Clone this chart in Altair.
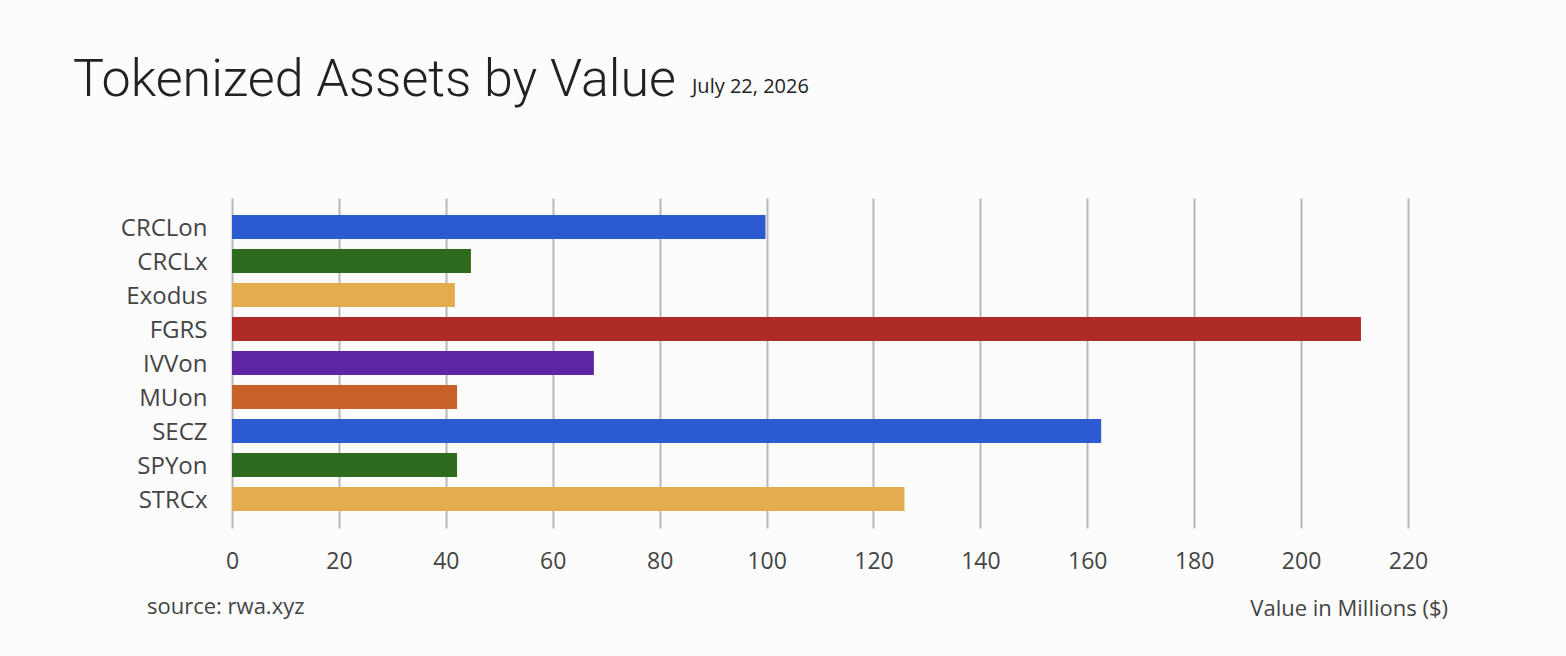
import altair as alt
import pandas as pd

assets = ["CRCLon", "CRCLx", "Exodus", "FGRS", "IVVon", "MUon", "SECZ", "SPYon", "STRCx"]
values = [99.8, 44.7, 41.7, 211.2, 67.7, 42.1, 162.6, 42.1, 125.8]
colors = ["#2C5AD0", "#2F6B1E", "#E2AC4F", "#AF2B27", "#5F24A3", "#C86127", "#2C5AD0", "#2F6B1E", "#E2AC4F"]
x_ticks = [0, 20, 40, 60, 80, 100, 120, 140, 160, 180, 200, 220]

title_text = "Tokenized Assets by Value"
date_text = "July 22, 2026"
source_text = "source: rwa.xyz"
axis_title = "Value in Millions ($)"

df = pd.DataFrame({"asset": assets, "value": values, "color": colors})

W, H = 1176, 330
LABEL_FONT = "Open Sans"

bars = alt.Chart(df).mark_bar().encode(
    y=alt.Y("asset:N", sort=assets,
            scale=alt.Scale(paddingInner=0.294, paddingOuter=0.5),
            axis=alt.Axis(title=None, domain=False, ticks=False, grid=False,
                          labelFontSize=24, labelFont=LABEL_FONT, labelColor="#444444",
                          labelPadding=25, labelOffset=2)),
    x=alt.X("value:Q", scale=alt.Scale(domain=[0, 220], nice=False),
            axis=alt.Axis(title=None, values=x_ticks, domain=False, ticks=False,
                          grid=True, gridColor="#b8b8b8", gridWidth=2,
                          labelFlush=False,
                          labelFontSize=23, labelFont=LABEL_FONT, labelColor="#444444",
                          labelPadding=22)),
    color=alt.Color("color:N", scale=None, legend=None),
)

one = pd.DataFrame({"t": [0]})

title = alt.Chart(one).mark_text(
    text=title_text, font="Roboto", fontSize=52, fontWeight=300, color="#222222",
    align="left", baseline="alphabetic"
).encode(x=alt.value(-159), y=alt.value(-102))

date = alt.Chart(one).mark_text(
    text=date_text, font="Open Sans", fontSize=20, color="#222222",
    align="left", baseline="alphabetic"
).encode(x=alt.value(460), y=alt.value(-105))

source = alt.Chart(one).mark_text(
    text=source_text, font="Open Sans", fontSize=22, color="#444444",
    align="left", baseline="middle"
).encode(x=alt.value(-85), y=alt.value(409))

xtitle = alt.Chart(one).mark_text(
    text=axis_title, font=LABEL_FONT, fontSize=22, color="#444444",
    align="right", baseline="middle"
).encode(x=alt.value(1216), y=alt.value(411))

chart = alt.layer(bars, title, date, source, xtitle).properties(
    width=W, height=H,
    autosize=alt.AutoSizeParams(type="none"),
    padding={"left": 232, "top": 198, "right": 158, "bottom": 128},
    background="#fcfcfc",
).configure_view(stroke=None)

chart.save("out.html", embed_options={"renderer": "svg", "actions": False})
